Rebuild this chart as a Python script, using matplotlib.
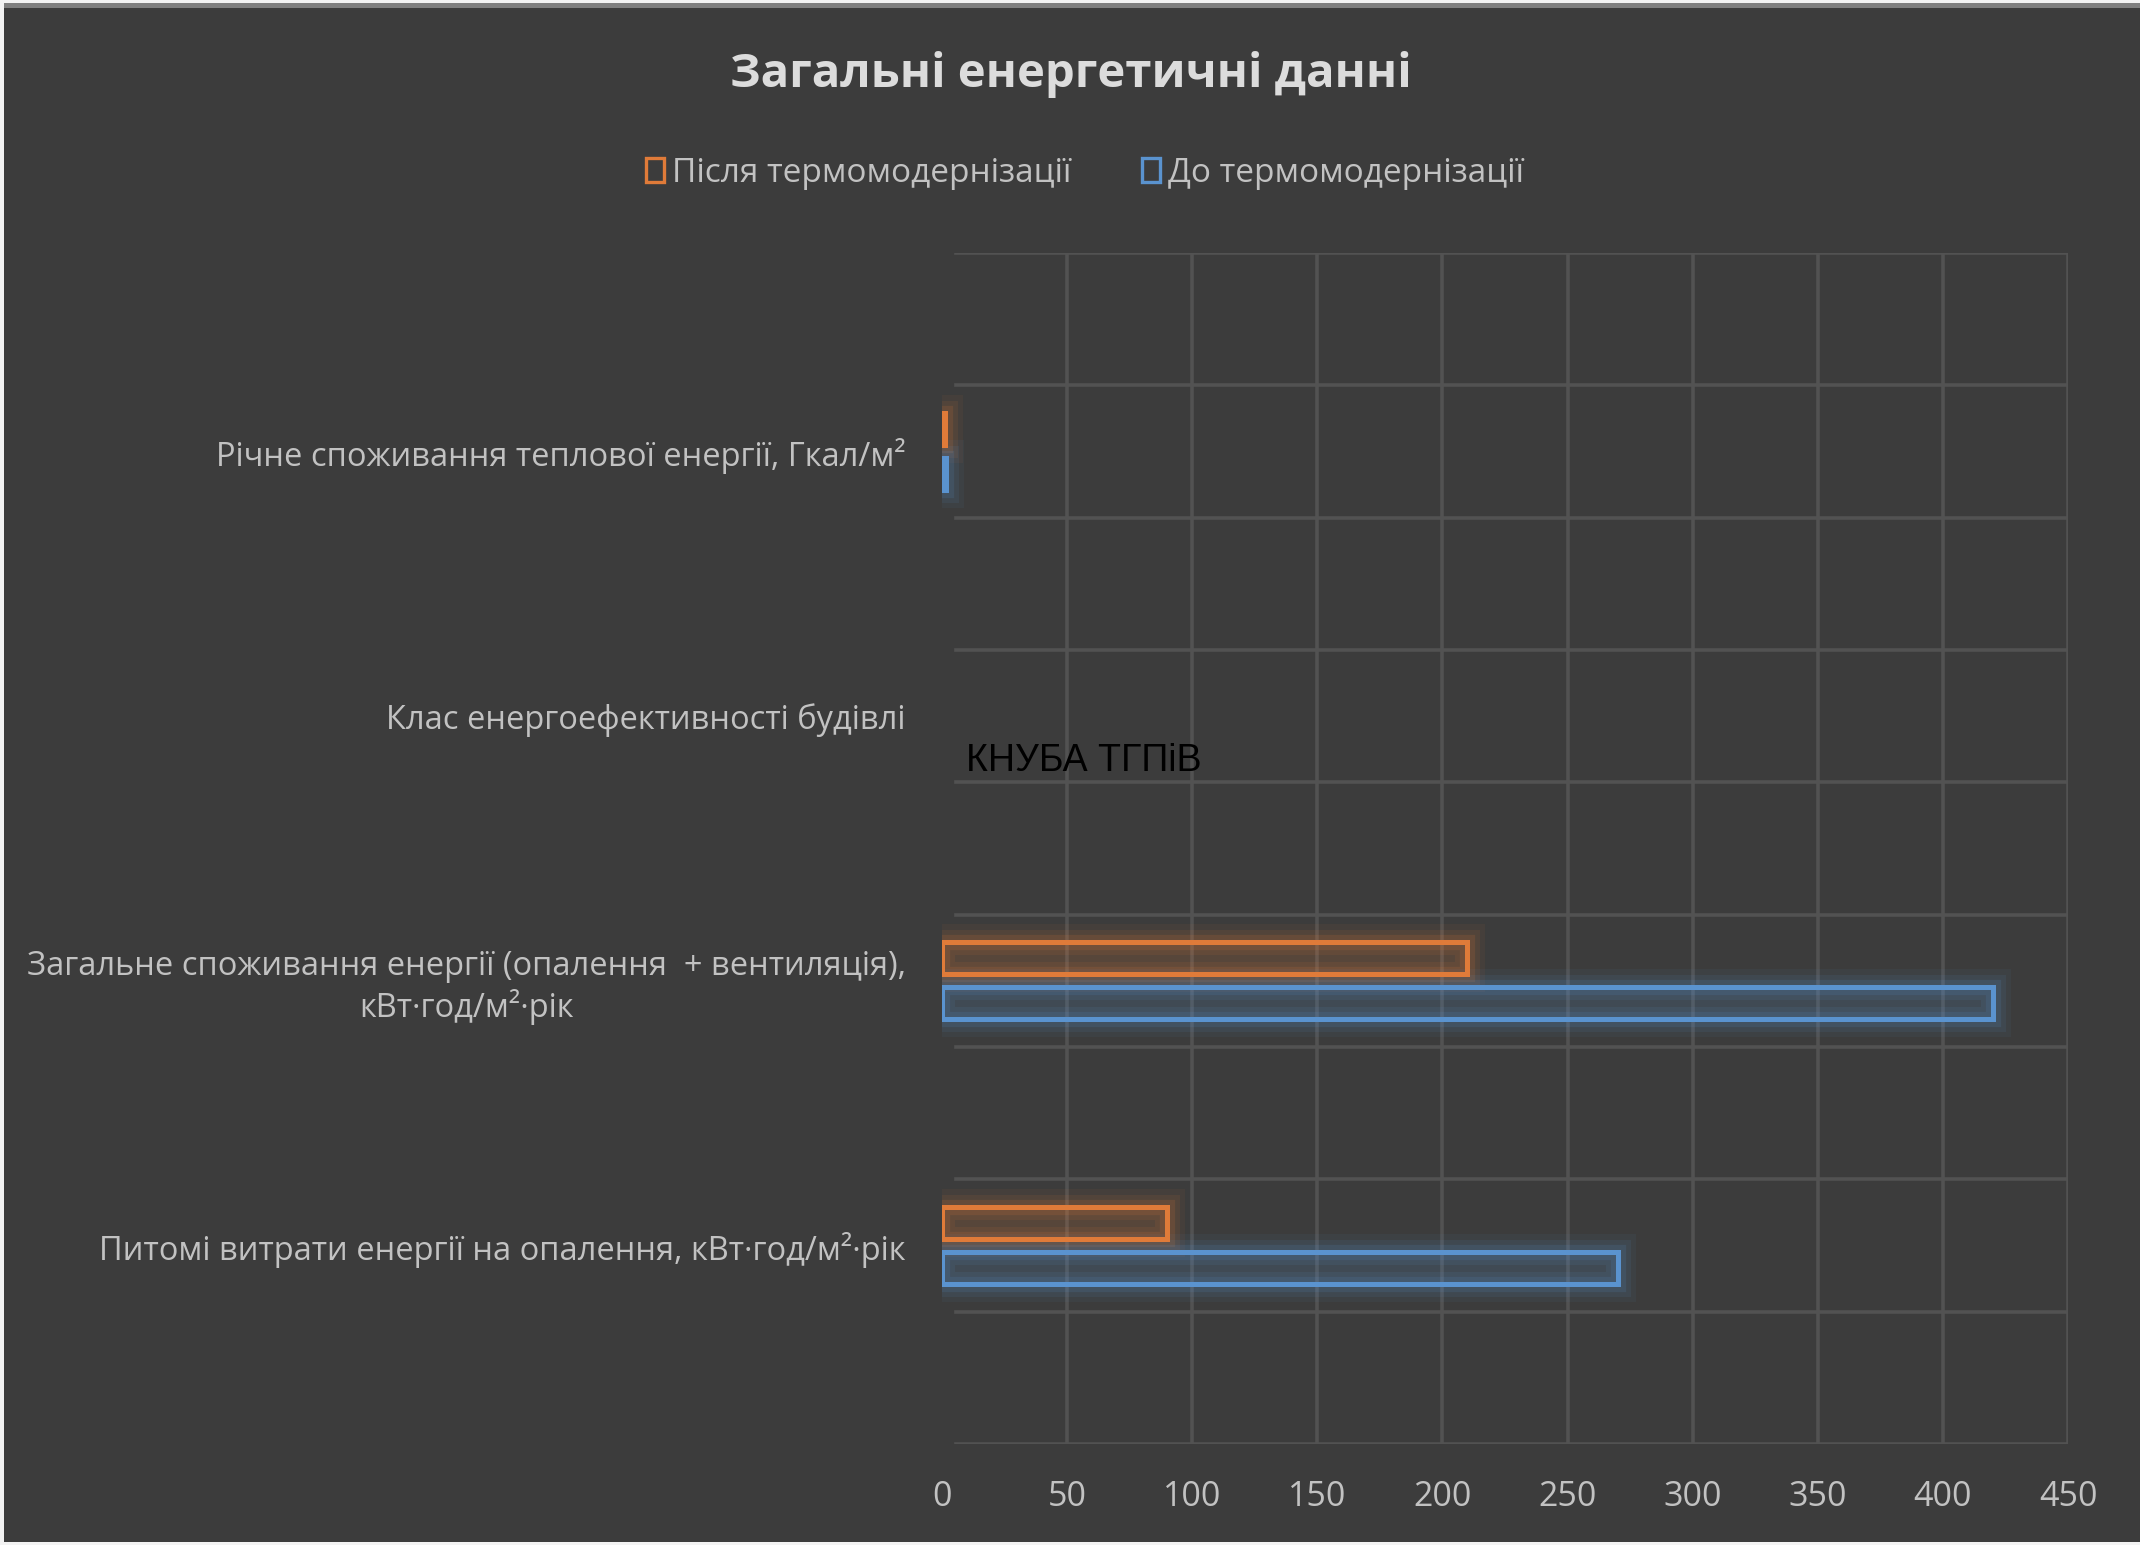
import matplotlib.pyplot as plt
from matplotlib.patches import Rectangle

# energy indicators before / after thermal modernisation
categories = [
    'Питомі витрати енергії на опалення, кВт·год/м²·рік',
    'Загальне споживання енергії (опалення  + вентиляція),\nкВт·год/м²·рік',
    'Клас енергоефективності будівлі',
    'Річне споживання теплової енергії, Гкал/м²',
]
after_values = [90, 210, None, 1.2]
before_values = [270, 420, None, 1.4]
series_names = ['Після термомодернізації', 'До термомодернізації']
xticks = [0, 50, 100, 150, 200, 250, 300, 350, 400, 450]

BG = '#3c3c3c'
GRID = '#525252'
TXT = '#c2c2c2'
ORANGE = '#e07b39'
BLUE = '#5a93cf'

plt.rcParams['font.family'] = ['Open Sans', 'DejaVu Sans']

fig = plt.figure(figsize=(21.4, 15.45), dpi=100, facecolor=BG)
ax = fig.add_axes([942 / 2140, 1 - 1444 / 1545, 1126 / 2140, 1191 / 1545])
ax.set_facecolor(BG)


def glow_bars(ypos, vals, color, offset):
    ys = [y + offset for y, v in zip(ypos, vals) if v is not None]
    ws = [v for v in vals if v is not None]
    # soft halo behind the outline
    for lw, a in [(26, 0.06), (18, 0.09), (11, 0.14)]:
        ax.barh(ys, ws, height=0.12, facecolor='none', edgecolor=color,
                linewidth=lw, alpha=a, zorder=3)
    ax.barh(ys, ws, height=0.12, facecolor=color, alpha=0.12,
            edgecolor='none', zorder=3)
    ax.barh(ys, ws, height=0.12, facecolor='none', edgecolor=color,
            linewidth=3.6, zorder=4)


ypos = list(range(len(categories)))
glow_bars(ypos, after_values, ORANGE, 0.085)
glow_bars(ypos, before_values, BLUE, -0.085)

ax.set_xlim(0, 450)
ax.set_ylim(-0.75, 3.75)
ax.set_xticks(xticks)
ax.set_yticks(ypos)
ax.set_yticklabels(categories, multialignment='center')

# grid: every 50 on x (no line at zero), every half category on y
for x in xticks[1:]:
    ax.axvline(x, color=GRID, lw=2.6, zorder=1)
y = -0.75
while y <= 3.76:
    ax.axhline(y, xmin=0.012, color=GRID, lw=2.6, zorder=1)
    y += 0.5

for s in ax.spines.values():
    s.set_visible(False)
ax.tick_params(axis='both', length=0, colors=TXT)
ax.tick_params(axis='x', labelsize=24.5, pad=26)
ax.tick_params(axis='y', labelsize=23.5, pad=26)

fig.text(1071 / 2140, 1 - 74 / 1545, 'Загальні енергетичні данні',
         ha='center', va='center', fontsize=34, fontweight='bold', color='#dcdcdc')

handles = [Rectangle((0, 0), 1, 1, facecolor='none', edgecolor=c, linewidth=2.4)
           for c in (ORANGE, BLUE)]
fig.legend(handles, series_names, loc='center', ncol=2, frameon=False,
           bbox_to_anchor=(1085 / 2140, 1 - 173 / 1545),
           fontsize=24, labelcolor=TXT, handlelength=0.55, handleheight=0.7,
           handletextpad=0.25, columnspacing=2.1)

fig.text(966 / 2140, 1 - 761 / 1545, 'КНУБА ТГПіВ', ha='left', va='center',
         fontsize=27, color='black', family=['Liberation Sans', 'DejaVu Sans'])

# sheet edge strips around the chart area
fig.patches.append(Rectangle((0, 1 - 3 / 1545), 1, 3 / 1545, transform=fig.transFigure,
                             facecolor='#f3f3f3', edgecolor='none'))
fig.patches.append(Rectangle((0, 1 - 8 / 1545), 1, 5 / 1545, transform=fig.transFigure,
                             facecolor='#7f7f7f', edgecolor='none'))
fig.patches.append(Rectangle((0, 0), 4 / 2140, 1, transform=fig.transFigure,
                             facecolor='#f3f3f3', edgecolor='none'))
fig.patches.append(Rectangle((0, 0), 1, 3 / 1545, transform=fig.transFigure,
                             facecolor='#f3f3f3', edgecolor='none'))

fig.savefig('out.png', dpi=100, facecolor=BG)
